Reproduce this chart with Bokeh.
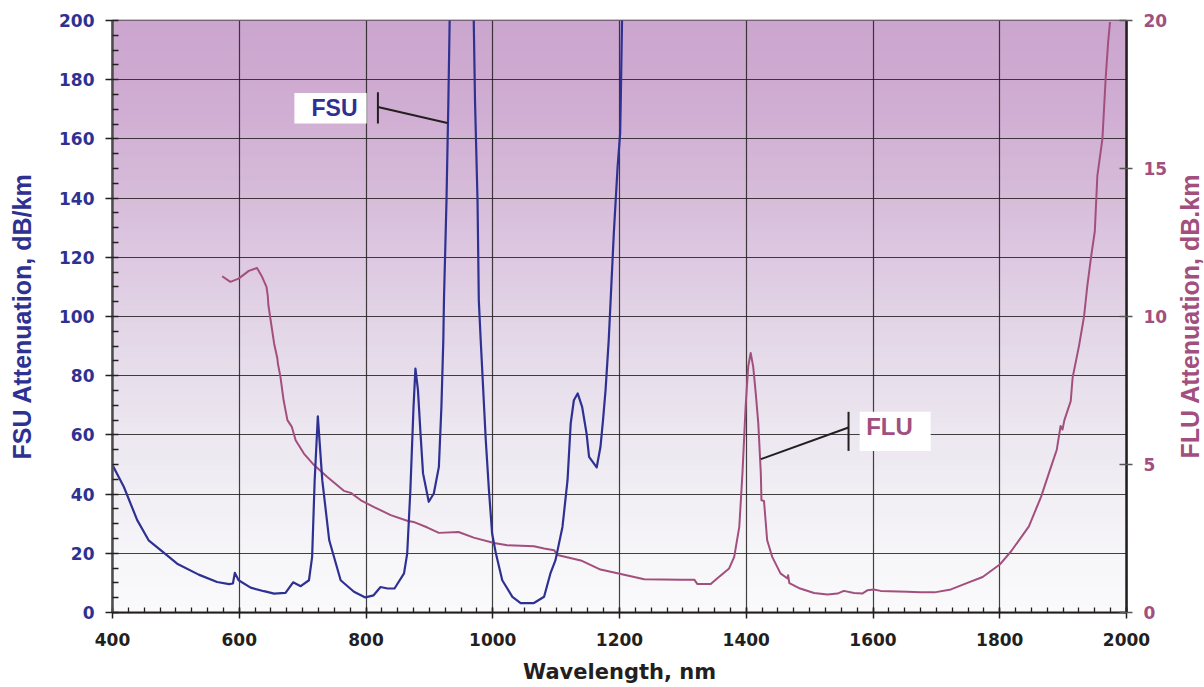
import math
import numpy as np
from bokeh.plotting import figure
from bokeh.layouts import row
from bokeh.core.properties import value
from bokeh.models import (Range1d, LinearAxis, SingleIntervalTicker, Label,
                          BoxAnnotation)
from bokeh.embed import file_html
from bokeh.resources import INLINE

# ---------------- data ----------------
wavelength_fsu = [400, 418, 439, 457, 476, 502, 536, 565, 584, 590, 593, 599, 618, 639, 655,
                  673, 685, 697, 710, 715, 719, 724, 731, 742, 760, 781, 799, 812, 823, 834,
                  845, 860, 865, 870, 875, 878, 882, 886, 890, 899, 907, 915, 919, 922, 923,
                  927, 930, 932, 933, 969, 970, 972, 976, 978, 981, 989, 994, 999, 1005, 1015,
                  1031, 1044, 1065, 1081, 1091, 1099, 1110, 1118, 1123, 1128, 1134, 1141, 1148,
                  1152, 1164, 1170, 1174, 1178, 1183, 1186, 1191, 1197, 1201, 1202, 1204, 1206]
fsu_attenuation = [49.8, 42.4, 31.2, 24.4, 21.1, 16.5, 12.8, 10.3, 9.6, 9.8, 13.4, 10.9, 8.4, 7.2, 6.4,
                   6.6, 10.2, 8.9, 10.9, 18.8, 44.7, 66.3, 44.7, 24.4, 10.9, 7.0, 5.1, 5.8, 8.6, 8.1,
                   8.1, 13.2, 19.9, 41.3, 69.5, 82.4, 75.1, 60.5, 47.0, 37.4, 40.2, 49.2, 69.5, 92.0, 105.5,
                   139.0, 173.0, 200.0, 215.0, 215.0, 200.0, 173.0, 139.0, 105.5, 92.0, 58.2, 41.3, 26.7, 19.9, 10.9,
                   5.3, 3.2, 3.2, 5.3, 13.2, 17.7, 28.9, 44.7, 63.9, 71.7, 74.0, 69.5, 60.5,
                   52.6, 49.0, 56.0, 65.0, 75.1, 92.0, 105.5, 128.0, 150.5, 161.8, 173.0, 200.0, 215.0]

wavelength_flu = [573, 586, 599, 615, 628, 636, 643, 645, 646, 655, 660, 661, 665, 670, 676,
                  683, 689, 702, 718, 739, 765, 776, 792, 812, 839, 865, 875, 897, 915, 946,
                  970, 1002, 1023, 1065, 1081, 1097, 1102, 1139, 1170, 1202, 1239, 1297, 1318, 1323, 1344,
                  1354, 1373, 1381, 1389, 1394, 1399, 1403, 1407, 1411, 1415, 1419, 1423, 1424, 1428, 1433,
                  1441, 1454, 1465, 1466, 1468, 1485, 1507, 1528, 1544, 1554, 1570, 1583, 1591, 1601, 1612,
                  1654, 1675, 1697, 1723, 1749, 1773, 1800, 1818, 1846, 1865, 1881, 1890, 1896, 1899, 1902,
                  1912, 1915, 1925, 1933, 1938, 1944, 1950, 1954, 1962, 1967, 1971, 1974]
flu_attenuation = [11.36, 11.17, 11.28, 11.54, 11.64, 11.34, 11.0, 10.7, 10.38, 9.09, 8.6, 8.41, 7.96, 7.17, 6.5,
                   6.27, 5.82, 5.37, 4.98, 4.58, 4.11, 4.04, 3.79, 3.57, 3.29, 3.1, 3.06, 2.87, 2.69, 2.72,
                   2.53, 2.35, 2.27, 2.24, 2.16, 2.1, 1.94, 1.76, 1.45, 1.3, 1.12, 1.11, 1.11, 0.96, 0.96,
                   1.15, 1.49, 1.88, 2.89, 4.7, 6.95, 8.3, 8.77, 8.3, 7.4, 6.39, 4.7, 3.79, 3.77, 2.44,
                   1.88, 1.32, 1.15, 1.26, 0.99, 0.81, 0.66, 0.61, 0.64, 0.73, 0.66, 0.64, 0.75, 0.78, 0.73,
                   0.70, 0.68, 0.68, 0.78, 1.0, 1.2, 1.62, 2.07, 2.91, 3.9, 4.93, 5.5, 6.3, 6.18, 6.5,
                   7.14, 7.94, 9.0, 10.0, 11.0, 12.0, 12.88, 14.75, 16.0, 18.0, 19.26, 19.95]

assert len(wavelength_fsu) == len(fsu_attenuation)
assert len(wavelength_flu) == len(flu_attenuation)

BLUE = "#2E3192"
MAUVE = "#A24F7E"
DARK = "#231F20"

# ---------------- main figure ----------------
p = figure(width=1172, height=687,
           x_range=Range1d(400, 2000), y_range=Range1d(0, 200),
           output_backend="svg", toolbar_location=None,
           min_border_left=112, min_border_right=46, min_border_top=20, min_border_bottom=75,
           background_fill_color="white", border_fill_color="white")
p.outline_line_color = DARK
p.outline_line_width = 1.5

# background gradient (purple top -> white bottom)
stop_v = [0, 20, 40, 60, 80, 100, 120, 140, 160, 180, 200]
stop_r = [250, 246, 241, 236, 231, 226, 221, 215, 210, 206, 203]
stop_g = [250, 245, 238, 231, 222, 212, 200, 188, 178, 170, 165]
stop_b = [251, 248, 244, 240, 235, 230, 225, 218, 213, 209, 205]
bands = np.arange(0, 200, 2.0)
mid = bands + 1.0
cols = ["#%02x%02x%02x" % (int(round(np.interp(m, stop_v, stop_r))),
                           int(round(np.interp(m, stop_v, stop_g))),
                           int(round(np.interp(m, stop_v, stop_b)))) for m in mid]
p.quad(left=400, right=2000, bottom=bands, top=bands + 2.4, fill_color=cols,
       line_color=None, level="image")

# grids
for g in (p.xgrid[0], p.ygrid[0]):
    g.grid_line_color = DARK
    g.grid_line_width = 1.2
    g.grid_line_alpha = 0.85

# left axis
ly = p.yaxis[0]
ly.ticker = SingleIntervalTicker(interval=20, num_minor_ticks=4)
ly.major_tick_out = 7
ly.major_tick_in = 0
ly.minor_tick_in = 6
ly.minor_tick_out = 0
ly.major_tick_line_color = DARK
ly.major_tick_line_width = 1.5
ly.minor_tick_line_color = DARK
ly.minor_tick_line_width = 1.3
ly.axis_line_color = "#4D4D4D"
ly.axis_line_width = 2.5
ly.major_label_text_font = "DejaVu Sans"
ly.major_label_text_font_style = "bold"
ly.major_label_text_font_size = "17px"
ly.major_label_text_color = BLUE
ly.major_label_standoff = 11
ly.axis_label = "FSU Attenuation, dB/km"
ly.axis_label_text_font = "Liberation Sans"
ly.axis_label_text_font_style = "bold"
ly.axis_label_text_font_size = "25px"
ly.axis_label_text_color = BLUE
ly.axis_label_standoff = 20

# bottom axis
bx = p.xaxis[0]
bx.ticker = SingleIntervalTicker(interval=200, num_minor_ticks=8)
bx.major_tick_in = 5
bx.major_tick_out = 6
bx.minor_tick_in = 5
bx.minor_tick_out = 0
bx.major_tick_line_color = DARK
bx.major_tick_line_width = 1.5
bx.minor_tick_line_color = DARK
bx.minor_tick_line_width = 1.3
bx.axis_line_color = DARK
bx.axis_line_width = 2
bx.major_label_text_font = "DejaVu Sans"
bx.major_label_text_font_style = "bold"
bx.major_label_text_font_size = "17px"
bx.major_label_text_color = DARK
bx.major_label_standoff = 14
bx.axis_label = "Wavelength, nm"
bx.axis_label_text_font = "DejaVu Sans"
bx.axis_label_text_font_style = "bold"
bx.axis_label_text_font_size = "21px"
bx.axis_label_text_color = DARK
bx.axis_label_standoff = 11

# right axis (its title is drawn in the narrow strip figure beside it)
p.extra_y_ranges = {"flu": Range1d(0, 20)}
ry = LinearAxis(y_range_name="flu", ticker=SingleIntervalTicker(interval=5, num_minor_ticks=0))
ry.major_tick_in = 7
ry.major_tick_out = 6
ry.major_tick_line_color = "#555555"
ry.major_tick_line_width = 1.5
ry.minor_tick_line_color = None
ry.axis_line_color = DARK
ry.axis_line_width = 2.5
ry.major_label_text_font = "DejaVu Sans"
ry.major_label_text_font_style = "bold"
ry.major_label_text_font_size = "17px"
ry.major_label_text_color = MAUVE
ry.major_label_standoff = 11
p.add_layout(ry, "right")

# curves
p.line(wavelength_flu, flu_attenuation, y_range_name="flu", line_color=MAUVE,
       line_width=2, line_join="round")
p.line(wavelength_fsu, fsu_attenuation, line_color=BLUE, line_width=2.2, line_join="round")

# callouts
p.add_layout(BoxAnnotation(left=687, right=801, bottom=165.2, top=175.5,
                           fill_color="white", fill_alpha=1, line_color=None))
p.add_layout(Label(x=750.4, y=170.5, text="FSU", text_align="center", text_baseline="middle",
                   text_font="Liberation Sans", text_font_style="bold",
                   text_font_size="23px", text_color=BLUE))
p.segment(x0=[818.8, 818.8], y0=[165.2, 170.8], x1=[818.8, 928.4], y1=[175.8, 165.4],
          line_color=DARK, line_width=2)

p.add_layout(BoxAnnotation(left=1579, right=1691, bottom=54.6, top=67.8,
                           fill_color="white", fill_alpha=1, line_color=None))
p.add_layout(Label(x=1626, y=63.0, text="FLU", text_align="center", text_baseline="middle",
                   text_font="Liberation Sans", text_font_style="bold",
                   text_font_size="24px", text_color=MAUVE))
p.segment(x0=[1561.4, 1561.4], y0=[54.6, 62.5], x1=[1561.4, 1422.9], y1=[67.8, 51.8],
          line_color=DARK, line_width=2)

# ---------------- strip for the right-hand axis title ----------------
q = figure(width=32, height=687, x_range=Range1d(0, 32), y_range=Range1d(0, 687),
           output_backend="svg", toolbar_location=None,
           x_axis_location=None, y_axis_location=None,
           min_border_left=0, min_border_right=0, min_border_top=0, min_border_bottom=0,
           background_fill_color="white", border_fill_color="white")
q.outline_line_color = None
q.grid.visible = False
q.text(x=[17.5], y=[344], text=["FLU Attenuation, dB.km"], angle=math.pi / 2,
       text_align="center", text_baseline="middle",
       text_font=value("Liberation Sans"), text_font_style="bold",
       text_font_size=value("25px"), text_color=MAUVE)

layout = row(p, q, spacing=0)
open("out.html", "w").write(file_html(layout, INLINE))
